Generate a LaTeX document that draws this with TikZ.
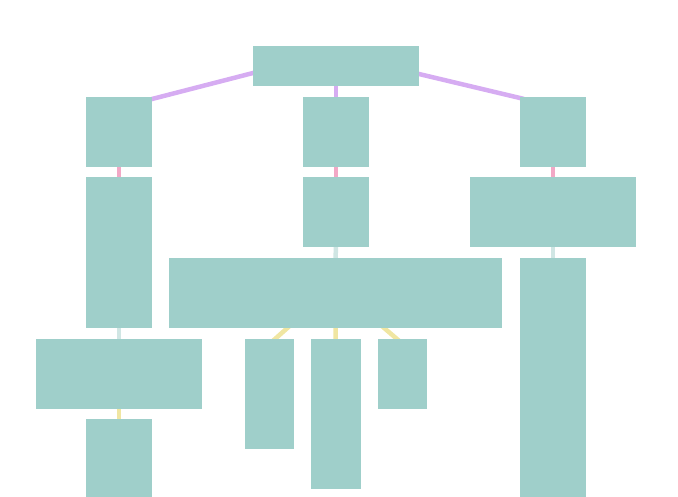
\documentclass[tikz,border=0pt]{standalone}
\usetikzlibrary{calc,backgrounds}
\definecolor{boxc}{RGB}{159,207,202}
\definecolor{purp}{RGB}{214,172,242}
\definecolor{pinkc}{RGB}{242,168,198}
\definecolor{grayc}{RGB}{208,230,228}
\definecolor{yell}{RGB}{240,230,162}
\begin{document}
\begin{tikzpicture}[x=1pt,y=-1pt,
  bx/.style={fill=boxc,draw=none,inner sep=0pt,outer sep=0pt,minimum width=#1},
  edge/.style={line width=4.5pt,line cap=butt}]
\useasboundingbox (0,0) rectangle (678,496);
% root
\node[bx=166pt,minimum height=40pt] (root) at (336,66) {};
% level 1
\node[bx=66pt,minimum height=70pt] (a1) at (119,132) {};
\node[bx=66pt,minimum height=70pt] (b1) at (336,132) {};
\node[bx=66pt,minimum height=70pt] (c1) at (553,132) {};
% level 2
\node[bx=66pt,minimum height=151pt] (a2) at (119,252.5) {};
\node[bx=66pt,minimum height=70pt] (b2) at (336,212) {};
\node[bx=166pt,minimum height=70pt] (c2) at (553,212) {};
% level 3
\node[bx=333pt,minimum height=70pt] (w) at (335.5,293) {};
\node[bx=66pt,minimum height=242pt] (c3) at (553,379) {};
% level 4
\node[bx=166pt,minimum height=70pt] (a3) at (119,374) {};
\node[bx=49pt,minimum height=110pt] (s1) at (269.5,394) {};
\node[bx=50pt,minimum height=150pt] (s2) at (336,414) {};
\node[bx=49pt,minimum height=70pt] (s3) at (402.5,374) {};
% level 5
\node[bx=66pt,minimum height=80pt] (a4) at (119,459) {};
\begin{pgfonlayer}{background}
\draw[edge,purp,shorten <=-4pt,shorten >=-4pt] ($(root.west)+(0,7)$) -- ($(a1.north east)+(0,2)$);
\draw[edge,purp,shorten <=-4pt,shorten >=-4pt] ($(root.east)+(0,8)$) -- ($(c1.north west)+(0,1)$);
\draw[edge,purp] (root) -- (b1);
\draw[edge,pinkc] (a1) -- (a2);
\draw[edge,pinkc] (b1) -- (b2);
\draw[edge,pinkc] (c1) -- (c2);
\draw[edge,grayc] (b2) -- (w);
\draw[edge,grayc] (c2) -- (c3);
\draw[edge,grayc] (a2) -- (a3);
\draw[edge,yell] (a3) -- (a4);
\draw[edge,yell] (w) -- (s2);
\draw[edge,yell,shorten <=-4pt,shorten >=-4pt] ($(w.south)+(-47,-1)$) -- ($(s1.north)+(5.5,0)$);
\draw[edge,yell,shorten <=-4pt,shorten >=-4pt] ($(w.south)+(47.5,-1)$) -- ($(s3.north)+(-5.5,0)$);
\end{pgfonlayer}
\end{tikzpicture}
\end{document}
